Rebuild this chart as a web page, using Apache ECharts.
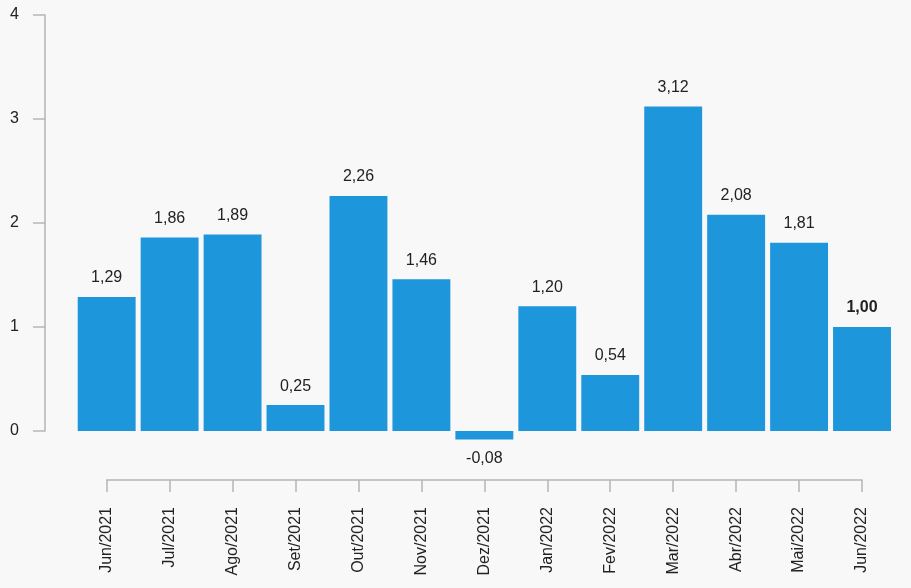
<!DOCTYPE html>
<html>
<head>
<meta charset="utf-8">
<script src="https://cdn.jsdelivr.net/npm/echarts@6/dist/echarts.min.js"></script>
<style>
html,body{margin:0;padding:0;background:#f8f8f8;}
#chart{width:911px;height:588px;}
</style>
</head>
<body>
<div id="chart"></div>
<script>
const categories = ['Jun/2021','Jul/2021','Ago/2021','Set/2021','Out/2021','Nov/2021','Dez/2021','Jan/2022','Fev/2022','Mar/2022','Abr/2022','Mai/2022','Jun/2022'];
const values = [1.29, 1.86, 1.89, 0.25, 2.26, 1.46, -0.08, 1.20, 0.54, 3.12, 2.08, 1.81, 1.00];
const boldIndex = 12;

const FONT = "'Liberation Sans', Arial, sans-serif";
const TEXT = '#222';
const AXIS = '#b5b5b5';

const chart = echarts.init(document.getElementById('chart'), null, {renderer:'canvas'});

const barData = values.map((v, i) => {
  const item = { value: v };
  const label = {};
  if (v < 0) label.position = 'bottom';
  if (i === boldIndex) label.fontWeight = 'bold';
  item.label = label;
  return item;
});

chart.setOption({
  backgroundColor: '#f8f8f8',
  animation: false,
  grid: [
    { left: 75.2, right: 17.5, top: 15, bottom: 108 },
    { left: 45, width: 1, top: 15, height: 416 },
    { left: 106.7, right: 49, top: 470, bottom: 108 }
  ],
  xAxis: [
    { type: 'category', gridIndex: 0, data: categories, show: false },
    { type: 'value', gridIndex: 1, show: false },
    {
      type: 'category', gridIndex: 2, data: categories, boundaryGap: false,
      axisLine: { show: true, lineStyle: { color: AXIS, width: 1.5 } },
      axisTick: { show: true, length: 12, alignWithLabel: true, lineStyle: { color: AXIS, width: 1.5 } },
      axisLabel: { interval: 0, rotate: 90, margin: 27, color: TEXT, fontSize: 16, fontFamily: FONT }
    }
  ],
  yAxis: [
    { type: 'value', gridIndex: 0, min: -0.47, max: 4, show: false },
    {
      type: 'value', gridIndex: 1, min: 0, max: 4, interval: 1,
      splitLine: { show: false },
      axisLine: { show: true, lineStyle: { color: AXIS, width: 1.5 } },
      axisTick: { show: true, length: 12, lineStyle: { color: AXIS, width: 1.5 } },
      axisLabel: { margin: 26, color: TEXT, fontSize: 16, fontFamily: FONT }
    },
    { type: 'value', gridIndex: 2, show: false }
  ],
  series: [{
    type: 'bar',
    xAxisIndex: 0,
    yAxisIndex: 0,
    data: barData,
    barCategoryGap: '8%',
    itemStyle: { color: '#1e96dc' },
    label: {
      show: true,
      position: 'top',
      distance: 11,
      color: TEXT,
      fontSize: 16,
      fontFamily: FONT,
      formatter: p => p.value.toFixed(2).replace('.', ',')
    }
  }]
});
</script>
</body>
</html>
